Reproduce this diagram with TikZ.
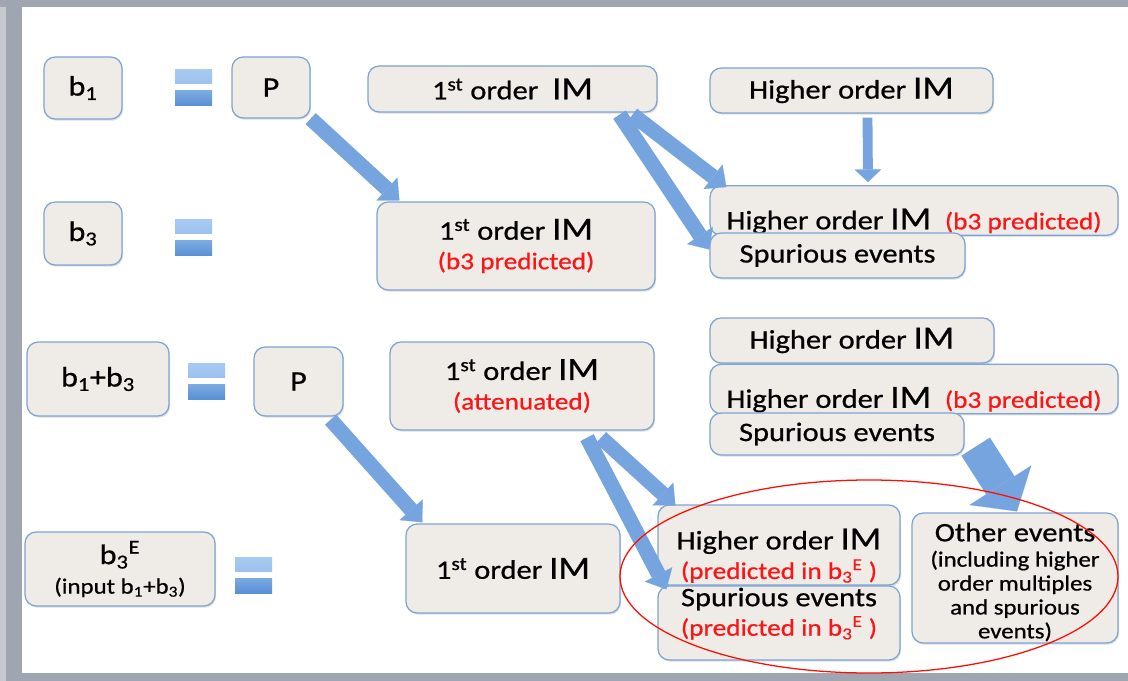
\documentclass[tikz,border=0pt]{standalone}
\usepackage{fontspec}
\setmainfont{Carlito}[FakeStretch=1.14,FakeBold=0.7]
\usetikzlibrary{arrows.meta,calc,shadows}

\definecolor{boxfill}{RGB}{239,236,232}
\definecolor{boxline}{RGB}{126,164,210}
\definecolor{arrowblue}{RGB}{118,164,222}
\definecolor{predred}{RGB}{250,22,22}
\definecolor{framegray}{RGB}{160,166,177}
\definecolor{eqlight}{RGB}{168,202,242}
\definecolor{eqdark}{RGB}{88,144,212}

% bigger IM and the red remarks
\newcommand{\bigIM}{{\fontsize{23}{24}\selectfont IM}}
\newcommand{\pred}[1]{{\color{predred}\fontsize{17}{20}\selectfont #1}}
\newcommand{\blab}[1]{{\fontsize{20}{22}\selectfont #1}}
\newcommand{\smallnote}[1]{{\fontsize{15.5}{17}\selectfont #1}}

\begin{document}
\begin{tikzpicture}[x=0.025cm,y=-0.025cm,font=\fontsize{19}{21}\selectfont,
    box/.style={draw=boxline,fill=boxfill,line width=0.9pt,rounded corners=8pt,
        align=center,inner sep=1pt,
        drop shadow={shadow xshift=0.8pt,shadow yshift=-1.2pt,opacity=0.25}},
    size/.style 2 args={minimum width=#1*0.025cm,minimum height=#2*0.025cm},
    arr/.style={arrowblue,line width=10.7pt,
        -{Triangle[width=22pt,length=12pt,line width=0.1pt]}},
    bigarr/.style={arrowblue,line width=24pt,
        -{Triangle[width=52pt,length=22pt,line width=0.1pt]}}]
\useasboundingbox (0,0) rectangle (1128,681);

% slide frame
\fill[framegray] (0,0) rectangle (1128,681);
\fill[framegray!60!white] (0,7) rectangle (6,681);
\fill[white] (22,7) rectangle (1128,673);

% the equal signs
\foreach \x/\y in {175/70,175/220,188/363,235/557}{
    \shade[top color=eqlight,bottom color=eqlight!85!eqdark] (\x,\y) rectangle ++(37,14);
    \shade[top color=eqlight!45!eqdark,bottom color=eqdark] (\x,\y+21) rectangle ++(37,15);
}

% upper half: b1 and b3
\node[box,size={78}{62}] (b1) at (83,88) {\blab{b\textsubscript{1}}};
\node[box,size={78}{61}] (p1) at (271,87.5) {\blab{P}};
\node[box,size={289}{46}] (fo1) at (512.5,89) {1\textsuperscript{st} order \ \bigIM};
\node[box,size={283}{45}] (ho1) at (851.5,90.5) {Higher order \bigIM};
\node[box,size={78}{63}] (b3) at (83,233.5) {\blab{b\textsubscript{3}}};
\node[box,size={278}{88}] (fo2) at (516,246) {1\textsuperscript{st} order \bigIM\\\pred{(b3 predicted)}};
\node[box,size={408}{45}] (hob3) at (914,210.5) {\rule{0pt}{30pt}Higher order \bigIM\ \ \pred{(b3 predicted)}};
\node[box,size={255}{45}] (sp1) at (837.5,255.5) {Spurious events};

% lower half: b1+b3 and b3^E
\node[box,size={142}{74}] (b1b3) at (98,379) {\blab{b\textsubscript{1}+b\textsubscript{3}}};
\node[box,size={89}{69}] (p2) at (298.5,381.5) {\blab{P}};
\node[box,size={264}{88}] (fo3) at (522,386) {1\textsuperscript{st} order \bigIM\\\pred{(attenuated)}};
\node[box,size={284}{45}] (ho2) at (852,340.5) {Higher order \bigIM};
\node[box,size={408}{44}] (hob3b) at (914,389) {\rule{0pt}{30pt}Higher order \bigIM\ \ \pred{(b3 predicted)}};
\node[box,size={254}{42}] (sp2) at (837,434) {Spurious events};
\node[box,size={190}{74}] (b3e) at (120,569) {\blab{b\textsubscript{3}\textsuperscript{E}}\\\smallnote{(input b\textsubscript{1}+b\textsubscript{3})}};
\node[box,size={214}{89}] (fo4) at (513,568.5) {1\textsuperscript{st} order \bigIM};
\node[box,size={242}{80}] (hoe) at (779,545) {\rule{0pt}{30pt}Higher order \bigIM\\\pred{(predicted in b\textsubscript{3}\textsuperscript{E} )}};
\node[box,size={242}{74}] (spe) at (779,623) {Spurious events\\\pred{(predicted in b\textsubscript{3}\textsuperscript{E} )}\rule[-16pt]{0pt}{16pt}};
\node[box,size={206}{130}] (oe) at (1015,578) {\rule{0pt}{19pt}Other events\\[-3pt]\smallnote{(including higher}\\[-4pt]\smallnote{order multiples}\\[-4pt]\smallnote{and spurious}\\[-4pt]\smallnote{events)}};

% arrows
\draw[arr] (p1.south east) -- ($(fo2.north west)+(23,-1)$);
\draw[arr] ($(fo1.south)+(120,2)$) -- ($(hob3.north west)+(17,2)$);
\draw[arr] ($(fo1.south)+(107,2)$) -- ($(sp1.west)+(0,-6)$);
\draw[arr,line width=7pt,-{Triangle[width=19pt,length=9pt,line width=0.1pt]}]
    ($(ho1.south)+(16,4)$) -- ($(hob3.north)+(-46,-3)$);
\draw[arr] ($(p2.south east)+(-13,3)$) -- ($(fo4.north west)+(17,-1)$);
\draw[arr] ($(fo3.south)+(79,7)$) -- ($(hoe.north west)+(18,1)$);
\draw[arr] ($(fo3.south)+(65,7)$) -- ($(spe.north west)+(9,4)$);
\draw[bigarr] ($(sp2.south east)+(11,-9)$) -- ($(oe.north)+(2,-1)$);

% predicted group
\draw[red!90!orange,line width=0.9pt] (869,576.5) ellipse [x radius=249,y radius=96.5];
\end{tikzpicture}
\end{document}
